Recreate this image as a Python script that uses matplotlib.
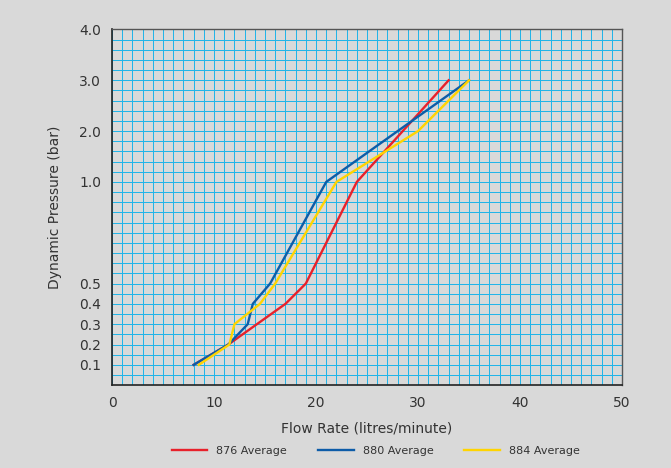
import numpy as np
import matplotlib
matplotlib.use("Agg")
import matplotlib.pyplot as plt
from matplotlib.ticker import FixedLocator, NullFormatter

# Values
flow_876 = [8, 11.4, 17, 19, 24, 33]
pres_876 = [0.1, 0.2, 0.4, 0.5, 1.0, 3.0]

flow_880 = [8, 11.4, 13.3, 13.8, 15.5, 21, 35]
pres_880 = [0.1, 0.2, 0.3, 0.4, 0.5, 1.0, 3.0]

flow_884 = [8.5, 11.5, 12, 14.5, 16, 22, 30, 35]
pres_884 = [0.1, 0.2, 0.3, 0.4, 0.5, 1.0, 2.0, 3.0]

series_labels = ["876 Average", "880 Average", "884 Average"]
y_tick_values = [0.1, 0.2, 0.3, 0.4, 0.5, 1.0, 2.0, 3.0, 4.0]
x_tick_values = [0, 10, 20, 30, 40, 50]

# chart paper scale: 0-1 bar is stretched, 1-4 bar compressed
SCALE_P = [0, 1, 4]
SCALE_G = [0, 20, 35]

def fwd(p):
    return np.interp(p, SCALE_P, SCALE_G)

def inv(g):
    return np.interp(g, SCALE_G, SCALE_P)

BG = "#d9d9d9"
GRID = "#22b4e8"
TXT = "#333333"

fig = plt.figure(figsize=(6.71, 4.68), dpi=100, facecolor=BG)
ax = fig.add_axes([0.167, 0.177, 0.760, 0.760])
ax.set_facecolor(BG)
ax.set_yscale("function", functions=(fwd, inv))

ax.plot(flow_876, pres_876, color="#e8212b", linewidth=1.7, label=series_labels[0], zorder=3)
ax.plot(flow_880, pres_880, color="#0d5ca8", linewidth=1.7, label=series_labels[1], zorder=4)
ax.plot(flow_884, pres_884, color="#ffd400", linewidth=1.7, label=series_labels[2], zorder=5)

ax.set_xlim(0, 50)
ax.set_ylim(0, 4.0)

ax.set_xticks(x_tick_values)
ax.set_yticks(y_tick_values)
ax.set_yticklabels([f"{v:.1f}" for v in y_tick_values])
ax.xaxis.set_minor_locator(FixedLocator(np.arange(0, 51, 1)))
ax.yaxis.set_minor_locator(FixedLocator(inv(np.arange(0, 36, 1))))
ax.yaxis.set_minor_formatter(NullFormatter())

# 1 px crisp grid lines like the printed chart paper
ax.grid(which="both", color=GRID, linewidth=0.72, antialiased=False, zorder=1)
ax.set_axisbelow(True)
ax.tick_params(which="both", length=0, labelsize=10, colors=TXT, pad=8)

for side in ["left", "bottom"]:
    ax.spines[side].set_color("#222222")
    ax.spines[side].set_linewidth(1.2)
for side in ["top", "right"]:
    ax.spines[side].set_color("#555555")
    ax.spines[side].set_linewidth(1.0)

ax.set_xlabel("Flow Rate (litres/minute)", fontsize=10, color=TXT, labelpad=8)
ax.set_ylabel("Dynamic Pressure (bar)", fontsize=10, color=TXT, labelpad=12)

leg = fig.legend(loc="center", bbox_to_anchor=(0.56, 0.036), ncol=3, frameon=False,
                 fontsize=8, handlelength=3.2, columnspacing=2.8, handletextpad=0.8)
for t in leg.get_texts():
    t.set_color(TXT)

fig.savefig("out.png", dpi=100, facecolor=BG)
